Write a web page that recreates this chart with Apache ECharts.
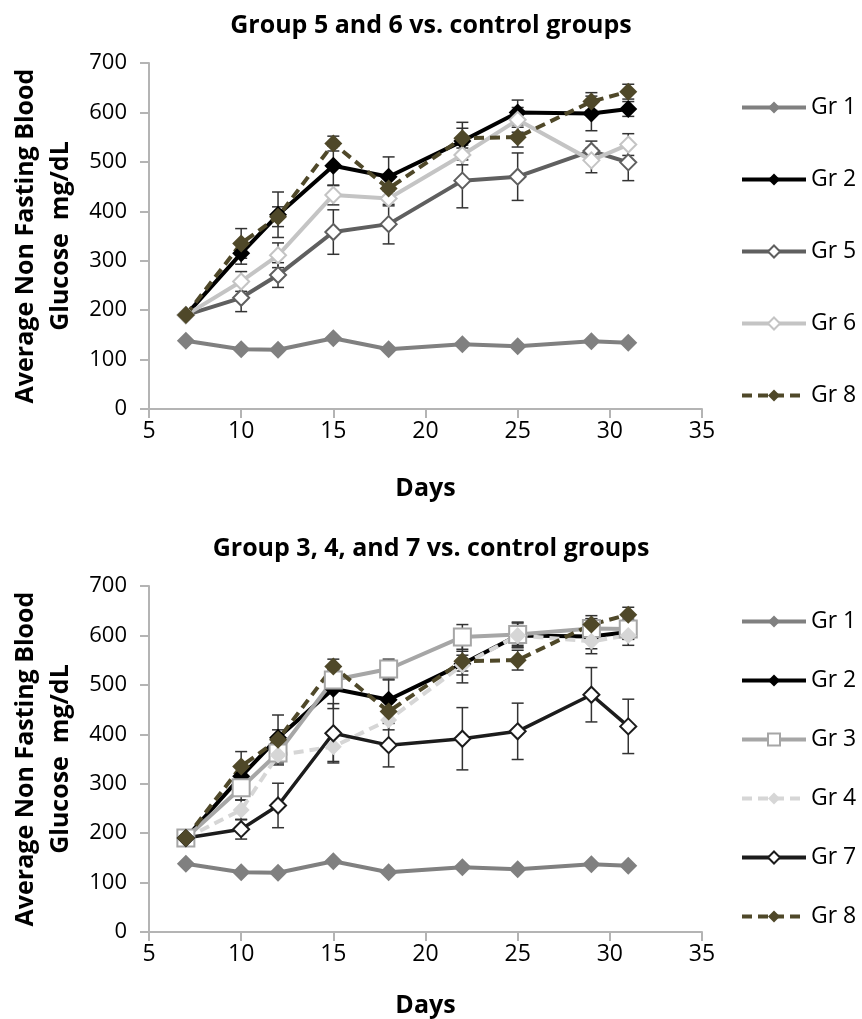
<!DOCTYPE html>
<html><head><meta charset="utf-8">
<script src="https://cdn.jsdelivr.net/npm/echarts@6/dist/echarts.min.js"></script>
<style>
body{margin:0;background:#fff}
#c1{position:absolute;left:0;top:0;width:862px;height:509px}
#c2{position:absolute;left:0;top:509px;width:862px;height:510px}
</style>
</head><body><div id="c1"></div><div id="c2"></div>
<script>
// ---- data ----
const days = [7, 10, 12, 15, 18, 22, 25, 29, 31];
const xTicks = [5, 10, 15, 20, 25, 30, 35];
const yTicks = [0, 100, 200, 300, 400, 500, 600, 700];

const gr1 = [138, 121, 120, 143, 121, 131, 127, 137, 134];
const gr2 = [190, 315, 393, 492, 470, 542, 600, 598, 607];
const gr3 = [190, 292, 362, 510, 532, 597, 602, 614, 613];
const gr4 = [190, 247, 358, 375, 429, 540, 600, 588, 600];
const gr5 = [190, 225, 271, 358, 374, 462, 470, 522, 499];
const gr6 = [190, 258, 311, 433, 426, 514, 585, 503, 535];
const gr7 = [190, 208, 256, 402, 378, 391, 406, 480, 416];
const gr8 = [190, 335, 389, 537, 446, 548, 550, 622, 642];

const err2 = [0, 22, 46, 40, 40, 38, 25, 35, 15];
const err3 = [0, 25, 20, 20, 20, 25, 25, 20, 20];
const err4 = [0, 20, 20, 30, 20, 20, 20, 15, 20];
const err5 = [0, 28, 25, 45, 40, 55, 48, 20, 37];
const err6 = [0, 20, 25, 20, 15, 20, 25, 25, 22];
const err7 = [0, 20, 45, 60, 44, 63, 57, 55, 55];
const err8 = [0, 30, 20, 15, 20, 20, 20, 18, 15];

const title1 = 'Group 5 and 6 vs. control groups';
const title2 = 'Group 3, 4, and 7 vs. control groups';
const yName = 'Average Non Fasting Blood\nGlucose  mg/dL';
const xName = 'Days';

// ---- styles ----
const FONT = 'Open Sans';
const AX = '#b4b4b4';
const ERR = '#333333';

function lineSeries(name, vals, color, opts) {
  opts = opts || {};
  const open = !!opts.open;
  return {
    type: 'line', name: name,
    data: days.map((d, i) => [d, vals[i]]),
    symbol: opts.symbol || 'diamond',
    symbolSize: opts.size || (open ? 16 : 18),
    showAllSymbol: true,
    lineStyle: { color: color, width: opts.width || 4, type: opts.dash ? [10, 6] : 'solid' },
    itemStyle: open ? { color: '#ffffff', borderColor: color, borderWidth: 2 } : { color: color, borderWidth: 0 },
    z: opts.z || 3,
    animation: false
  };
}

function errSeries(name, vals, errs) {
  const data = [];
  days.forEach((d, i) => { if (errs[i] > 0) data.push([d, vals[i] - errs[i], vals[i] + errs[i]]); });
  return {
    type: 'custom', name: name + ' err', silent: true, z: 2,
    encode: { x: 0, y: [1, 2] },
    data: data,
    animation: false,
    renderItem: function (params, api) {
      const x = api.value(0), lo = api.value(1), hi = api.value(2);
      const a = api.coord([x, hi]), b = api.coord([x, lo]);
      const w = 6, st = { stroke: ERR, lineWidth: 1.5 };
      return { type: 'group', children: [
        { type: 'line', shape: { x1: a[0], y1: a[1], x2: b[0], y2: b[1] }, style: st },
        { type: 'line', shape: { x1: a[0] - w, y1: a[1], x2: a[0] + w, y2: a[1] }, style: st },
        { type: 'line', shape: { x1: b[0] - w, y1: b[1], x2: b[0] + w, y2: b[1] }, style: st }
      ] };
    }
  };
}

function baseOption(title, titleTop, grid, legendTop, legendGap, legendNames, xNameGap) {
  grid.outerBoundsMode = 'none';
  grid.containLabel = false;
  return {
    backgroundColor: '#ffffff',
    animation: false,
    textStyle: { fontFamily: FONT },
    title: { text: title, left: 'center', top: titleTop,
      textStyle: { fontFamily: FONT, fontWeight: 'bold', fontSize: 25, color: '#000' } },
    grid: grid,
    legend: {
      orient: 'vertical', left: 735, top: legendTop, itemGap: legendGap,
      itemWidth: 64, itemHeight: 15, data: legendNames,
      lineStyle: { width: 4 },
      textStyle: { fontFamily: FONT, fontSize: 23, color: '#000', lineHeight: 20 }
    },
    xAxis: {
      type: 'value', min: xTicks[0], max: xTicks[xTicks.length - 1], interval: 5,
      name: xName, nameLocation: 'middle', nameGap: xNameGap,
      nameTextStyle: { fontFamily: FONT, fontWeight: 'bold', fontSize: 25, color: '#000' },
      axisLine: { lineStyle: { color: AX, width: 2 } },
      axisTick: { show: true, inside: false, length: 9, lineStyle: { color: AX, width: 2 } },
      axisLabel: { fontFamily: FONT, fontSize: 23, color: '#000', margin: 11 },
      splitLine: { show: false }
    },
    yAxis: {
      type: 'value', min: yTicks[0], max: yTicks[yTicks.length - 1], interval: 100,
      name: yName, nameLocation: 'middle', nameGap: 70,
      nameTextStyle: { fontFamily: FONT, fontWeight: 'bold', fontSize: 25, color: '#000', lineHeight: 35 },
      axisLine: { show: true, lineStyle: { color: AX, width: 2 } },
      axisTick: { show: true, inside: false, length: 9, lineStyle: { color: AX, width: 2 } },
      axisLabel: { fontFamily: FONT, fontSize: 22, color: '#000', margin: 22 },
      splitLine: { show: false }
    }
  };
}

// ---- chart 1 ----
const c1 = echarts.init(document.getElementById('c1'), null, { renderer: 'canvas' });
const o1 = baseOption(title1, 8, { left: 149, right: 160, top: 63, bottom: 100 }, 91, 49,
  ['Gr 1', 'Gr 2', 'Gr 5', 'Gr 6', 'Gr 8'], 67);
o1.series = [
  errSeries('Gr 2', gr2, err2),
  errSeries('Gr 5', gr5, err5),
  errSeries('Gr 6', gr6, err6),
  errSeries('Gr 8', gr8, err8),
  lineSeries('Gr 1', gr1, '#808080'),
  lineSeries('Gr 2', gr2, '#000000'),
  lineSeries('Gr 5', gr5, '#5f5f5f', { open: true }),
  lineSeries('Gr 6', gr6, '#c4c4c4', { open: true }),
  lineSeries('Gr 8', gr8, '#4f4829', { dash: true })
];
c1.setOption(o1);

// ---- chart 2 ----
const c2 = echarts.init(document.getElementById('c2'), null, { renderer: 'canvas' });
const o2 = baseOption(title2, 22, { left: 149, right: 160, top: 77, bottom: 87 }, 96, 36,
  ['Gr 1', 'Gr 2', 'Gr 3', 'Gr 4', 'Gr 7', 'Gr 8'], 61);
o2.series = [
  errSeries('Gr 2', gr2, err2),
  errSeries('Gr 3', gr3, err3),
  errSeries('Gr 4', gr4, err4),
  errSeries('Gr 7', gr7, err7),
  errSeries('Gr 8', gr8, err8),
  lineSeries('Gr 1', gr1, '#808080'),
  lineSeries('Gr 2', gr2, '#000000'),
  lineSeries('Gr 3', gr3, '#a6a6a6', { open: true, symbol: 'rect', size: 17 }),
  lineSeries('Gr 4', gr4, '#d6d6d6', { dash: true, size: 17 }),
  lineSeries('Gr 7', gr7, '#1c1c1c', { open: true, width: 3.5 }),
  lineSeries('Gr 8', gr8, '#4f4829', { dash: true })
];
c2.setOption(o2);
</script>
</body></html>
